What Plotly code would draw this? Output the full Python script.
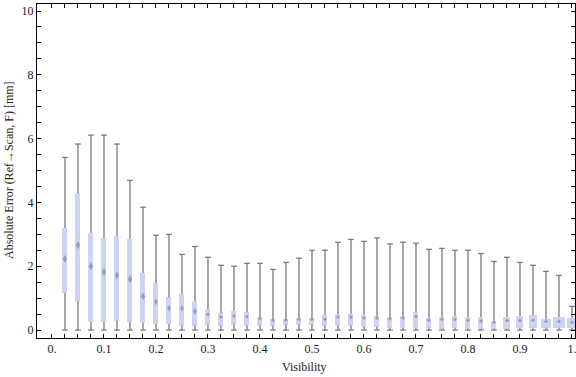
import plotly.graph_objects as go

# ---- data ----
visibility = [0.025, 0.05, 0.075, 0.1, 0.125, 0.15, 0.175, 0.2, 0.225, 0.25,
              0.275, 0.3, 0.325, 0.35, 0.375, 0.4, 0.425, 0.45, 0.475, 0.5,
              0.525, 0.55, 0.575, 0.6, 0.625, 0.65, 0.675, 0.7, 0.725, 0.75,
              0.775, 0.8, 0.825, 0.85, 0.875, 0.9, 0.925, 0.95, 0.975, 1.0]
w_min = [0.0] * 40
q1 = [1.17, 0.92, 0.26, 0.26, 0.29, 0.26, 0.23, 0.20, 0.20, 0.14,
      0.14, 0.17, 0.14, 0.17, 0.14, 0.14, 0.14, 0.17, 0.17, 0.17,
      0.14, 0.14, 0.14, 0.10, 0.10, 0.07, 0.07, 0.07, 0.07, 0.04,
      0.07, 0.04, 0.04, 0.04, 0.04, 0.07, 0.07, 0.07, 0.07, 0.07]
median = [2.23, 2.66, 2.00, 1.82, 1.71, 1.59, 1.06, 0.89, 0.68, 0.68,
          0.59, 0.49, 0.41, 0.44, 0.42, 0.36, 0.31, 0.31, 0.34, 0.34,
          0.34, 0.41, 0.41, 0.38, 0.38, 0.36, 0.38, 0.42, 0.31, 0.34,
          0.34, 0.31, 0.28, 0.24, 0.30, 0.30, 0.31, 0.27, 0.27, 0.24]
q3 = [3.20, 4.29, 3.04, 2.88, 2.95, 2.85, 1.79, 1.47, 1.03, 1.13,
      0.91, 0.66, 0.53, 0.60, 0.56, 0.41, 0.34, 0.34, 0.38, 0.38,
      0.47, 0.50, 0.50, 0.47, 0.44, 0.41, 0.44, 0.56, 0.38, 0.41,
      0.44, 0.41, 0.41, 0.28, 0.41, 0.44, 0.47, 0.34, 0.41, 0.38]
w_max = [5.41, 5.83, 6.11, 6.11, 5.83, 4.69, 3.85, 2.97, 3.00, 2.37,
         2.62, 2.28, 2.03, 2.00, 2.09, 2.09, 1.90, 2.12, 2.25, 2.50,
         2.50, 2.75, 2.84, 2.78, 2.89, 2.70, 2.75, 2.72, 2.53, 2.56,
         2.50, 2.50, 2.40, 2.15, 2.28, 2.12, 2.03, 1.84, 1.71, 0.74]

x_tickvals = [0.0, 0.025, 0.05, 0.075, 0.1, 0.125, 0.15, 0.175, 0.2, 0.225,
              0.25, 0.275, 0.3, 0.325, 0.35, 0.375, 0.4, 0.425, 0.45, 0.475,
              0.5, 0.525, 0.55, 0.575, 0.6, 0.625, 0.65, 0.675, 0.7, 0.725,
              0.75, 0.775, 0.8, 0.825, 0.85, 0.875, 0.9, 0.925, 0.95, 0.975, 1.0]
x_labels = {0.0: "0.", 0.1: "0.1", 0.2: "0.2", 0.3: "0.3", 0.4: "0.4", 0.5: "0.5",
            0.6: "0.6", 0.7: "0.7", 0.8: "0.8", 0.9: "0.9", 1.0: "1."}
y_tickvals = [0, 0.5, 1, 1.5, 2, 2.5, 3, 3.5, 4, 4.5, 5, 5.5, 6, 6.5, 7, 7.5,
              8, 8.5, 9, 9.5, 10]
y_labels = {0: "0", 2: "2", 4: "4", 6: "6", 8: "8", 10: "10"}

# ---- style ----
PX_PER_X = 520.0
box_px = [5] * 34 + [7, 7, 8, 10, 12, 10]
box_width = [p / PX_PER_X for p in box_px]
BOX_FILL = "#ccd3f5"
WHISK = "#7a7a7a"
FONT = "Liberation Serif"

fig = go.Figure()

# boxes (interquartile range)
fig.add_trace(go.Bar(
    x=visibility, y=[b - a for a, b in zip(q1, q3)], base=q1,
    width=box_width, marker=dict(color=BOX_FILL, line=dict(width=0)),
    hoverinfo="skip", showlegend=False))

# whisker segments
wx, wy = [], []
for xv, lo, a, b, hi in zip(visibility, w_min, q1, q3, w_max):
    wx += [xv, xv, None, xv, xv, None]
    wy += [lo, a, None, b, hi, None]
fig.add_trace(go.Scatter(x=wx, y=wy, mode="lines",
                         line=dict(color=WHISK, width=1.3),
                         hoverinfo="skip", showlegend=False))

# whisker caps
fig.add_trace(go.Scatter(x=visibility + visibility, y=w_min + w_max, mode="markers",
                         marker=dict(symbol="line-ew", size=4,
                                     line=dict(color=WHISK, width=1.3)),
                         hoverinfo="skip", showlegend=False))

# median markers
iqr = [b - a for a, b in zip(q1, q3)]
msize = [6 if d > 1.5 else (5 if d > 0.7 else 3) for d in iqr]
msym = ["diamond-tall" if d > 0.7 else "diamond" for d in iqr]
fig.add_trace(go.Scatter(x=visibility, y=median, mode="markers",
                         marker=dict(symbol=msym, size=msize,
                                     color="rgba(110,110,110,0.75)",
                                     line=dict(width=0)),
                         hoverinfo="skip", showlegend=False))

axis_common = dict(showline=True, linecolor="black", linewidth=1, mirror="ticks",
                   ticks="inside", ticklen=4, tickwidth=1, tickcolor="black",
                   showgrid=False, zeroline=False, automargin=False,
                   ticklabeloverflow="allow",
                   tickfont=dict(family=FONT, size=12, color="#222222"))

fig.update_layout(
    width=576, height=377,
    margin=dict(l=37, r=1, t=4, b=39, autoexpand=False),
    paper_bgcolor="white", plot_bgcolor="white",
    bargap=0,
    xaxis=dict(range=[-0.0288, 1.0058], tickmode="array",
               tickvals=x_tickvals,
               ticktext=[x_labels.get(round(v, 3), "") for v in x_tickvals],
               **axis_common),
    yaxis=dict(range=[-0.25, 10.22], tickmode="array",
               tickvals=y_tickvals,
               ticktext=[y_labels.get(v, "") for v in y_tickvals],
               **axis_common),
    annotations=[
        dict(text="Absolute Error (Ref\u2192Scan, F) [mm]", xref="paper", yref="paper",
             x=-0.052, y=0.503, xanchor="center", yanchor="middle", textangle=-90,
             showarrow=False, font=dict(family=FONT, size=12, color="#222222")),
        dict(text="Visibility", xref="paper", yref="paper",
             x=0.498, y=-0.0868, xanchor="center", yanchor="middle",
             showarrow=False, font=dict(family=FONT, size=12, color="#222222")),
    ],
)

fig.write_html("out.html", config={"displayModeBar": False},
               post_script="document.body.style.margin='0';")
